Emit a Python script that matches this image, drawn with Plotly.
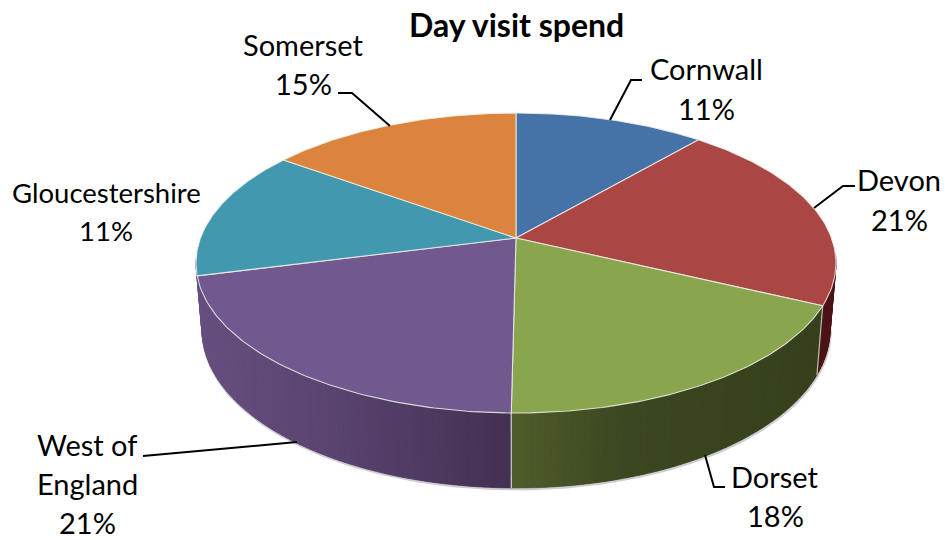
import numpy as np
import plotly.graph_objects as go

categories = ["Cornwall", "Devon", "Dorset", "West of England", "Gloucestershire", "Somerset"]
shares = [11.3, 20.8, 18.1, 20.8, 14.0, 15.0]          # slice sizes
shown_pct = ["11%", "21%", "18%", "21%", "11%", "15%"]  # percentages as printed
colors = ["#4572A7", "#AA4643", "#89A54E", "#71588F", "#4198AF", "#DB843D"]
title = "Day visit spend"

label_lines = {
    "Cornwall": ["Cornwall"],
    "Devon": ["Devon"],
    "Dorset": ["Dorset"],
    "West of England": ["West of", "England"],
    "Gloucestershire": ["Gloucestershire"],
    "Somerset": ["Somerset"],
}
label_pos = {
    "Cornwall": (706, 68, 40),
    "Devon": (899, 179, 40),
    "Dorset": (775, 476, 39),
    "West of England": (87, 444, 39),
    "Gloucestershire": (106, 192, 38),
    "Somerset": (303, 44, 39),
}
label_size = {"Gloucestershire": 27.5}
leaders = [
    ([642, 631, 610], [80, 80, 120]),
    ([855, 843, 814], [186, 186, 208]),
    ([725, 714, 705], [487, 487, 455]),
    ([143, 297], [456, 442]),
    ([338, 352, 390], [93, 93, 126]),
]

# geometry of the projected disc
TOP = (516, 263, 320, 150)
BOT = (516, 330, 314, 158)
A = -1 / 6  # perspective shift of the disc centre


def project(phi, ell):
    cx, cy, rx, ry = ell
    u, v = np.sin(phi), -np.cos(phi)
    d = 1 + A * v
    return cx + rx * u * np.sqrt(1 - A * A) / d, cy + ry * (v + A) / d


def lerp_color(x, stops):
    xs = [s[0] for s in stops]
    rgb = [np.interp(x, xs, [s[1][i] for s in stops]) for i in range(3)]
    return "rgb(%d,%d,%d)" % tuple(rgb)


wall_shades = {
    1: [(700, (77, 20, 24)), (900, (77, 20, 24))],
    2: [(511, (80, 93, 43)), (620, (60, 72, 33)), (830, (54, 64, 29))],
    3: [(195, (104, 80, 128)), (350, (88, 66, 110)), (511, (68, 48, 82))],
}

edges = np.concatenate([[0], np.cumsum(shares)]) / np.sum(shares) * 2 * np.pi

fig = go.Figure()


def poly(xs, ys, fill, line=None, width=0):
    fig.add_trace(go.Scatter(
        x=xs, y=ys, mode="lines", fill="toself", fillcolor=fill,
        line=dict(color=line or fill, width=width), hoverinfo="skip", showlegend=False))


# soft edge beneath the wall
p = np.radians(np.linspace(96, 262, 200))
bx, by = project(p, BOT)
fig.add_trace(go.Scatter(x=bx + 0.6, y=by + 1.2, mode="lines", line=dict(color="#cfcdd2", width=2.5),
                         hoverinfo="skip", showlegend=False))

# side wall, in thin shaded strips laid over a solid base
for idx in wall_shades:
    start, end = edges[idx], edges[idx + 1]
    if idx == 1:
        start = np.radians(96)
    if idx == 3:
        end = np.radians(262)
    base = np.linspace(start, end, 120)
    tx, ty = project(base, TOP)
    ux, uy = project(base[::-1], BOT)
    poly(list(tx) + list(ux) + [tx[0]], list(ty) + list(uy) + [ty[0]],
         lerp_color((tx.mean() + ux.mean()) / 2, wall_shades[idx]))
    grid = np.linspace(start, end, max(3, int((end - start) / np.radians(1.0))))
    for a, b in zip(grid[:-1], grid[1:]):
        tx, ty = project(np.array([a, b]), TOP)
        ux, uy = project(np.array([b, a]), BOT)
        c = lerp_color((tx.mean() + ux.mean()) / 2, wall_shades[idx])
        poly(list(tx) + list(ux) + [tx[0]], list(ty) + list(uy) + [ty[0]], c, c, 0.6)

# light seams between wall segments
for e, col in ((edges[2], "#b9bda8"), (edges[3], "#cfd0c6")):
    tx, ty = project(e, TOP)
    ux, uy = project(e, BOT)
    fig.add_trace(go.Scatter(x=[tx, ux], y=[ty, uy], mode="lines", line=dict(color=col, width=1.2),
                             hoverinfo="skip", showlegend=False))

# top face
apex_x, apex_y = project(0.0, TOP)[0], TOP[1] + TOP[3] * A
for i, c in enumerate(colors):
    arc = np.linspace(edges[i], edges[i + 1], 90)
    ax, ay = project(arc, TOP)
    poly([apex_x] + list(ax) + [apex_x], [apex_y] + list(ay) + [apex_y], c, "rgba(238,238,232,0.85)", 1.1)

# leader lines
for lx, ly in leaders:
    fig.add_trace(go.Scatter(x=lx, y=ly, mode="lines", line=dict(color="#000000", width=2),
                             hoverinfo="skip", showlegend=False))

# labels
FONT = "Lato, 'Open Sans', sans-serif"
for name, pct in zip(categories, shown_pct):
    x0, y0, step = label_pos[name]
    for k, t in enumerate(label_lines[name] + [pct]):
        fig.add_annotation(x=x0, y=y0 + k * step, text=t, showarrow=False, xanchor="center", yanchor="middle",
                           font=dict(family=FONT, size=label_size.get(name, 29), color="#000000"))
fig.add_annotation(x=516, y=24, text="<b>%s</b>" % title, showarrow=False, xanchor="center", yanchor="middle",
                   font=dict(family=FONT, size=32, color="#000000"))

fig.update_xaxes(range=[0, 951], visible=False, fixedrange=True)
fig.update_yaxes(range=[540, 0], visible=False, fixedrange=True)
fig.update_layout(width=951, height=540, margin=dict(l=0, r=0, t=0, b=0),
                  paper_bgcolor="#ffffff", plot_bgcolor="#ffffff", showlegend=False)
fig.write_html("out.html", config={"displayModeBar": False},
               post_script="document.body.style.margin='0';document.body.style.overflow='hidden';")
